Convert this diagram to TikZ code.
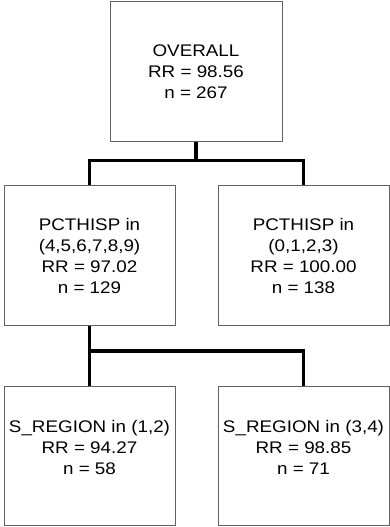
\documentclass[tikz,border=0pt]{standalone}
\usepackage{fontspec}
\setmainfont{Liberation Sans}[FakeStretch=1.12]
\begin{document}
\begin{tikzpicture}[x=1pt,y=-1pt,
  treebox/.style={draw=black!62, line width=1pt, minimum width=171pt, minimum height=139pt, inner sep=0pt},
  boxtext/.style={align=center, font=\fontsize{16.8}{21}\selectfont, inner sep=0pt},
  link/.style={line width=3.2pt, black}]
\useasboundingbox (0,0) rectangle (390,527);
\node[treebox, minimum width=172pt] (top) at (196,71.5) {};
\node[boxtext] (toptext) at (196,72) {OVERALL\\RR = 98.56\\n = 267};
\node[treebox, minimum height=140pt] (ml) at (89.5,255) {};
\node[boxtext] (mltext) at (89.5,255.5) {PCTHISP in\\(4,5,6,7,8,9)\\RR = 97.02\\n = 129};
\node[treebox, minimum height=140pt] (mr) at (303.5,255) {};
\node[boxtext] (mrtext) at (303.5,255.5) {PCTHISP in\\(0,1,2,3)\\RR = 100.00\\n = 138};
\node[treebox] (bl) at (89.5,456) {};
\node[boxtext] (bltext) at (89.5,447.5) {S\_REGION in (1,2)\\RR = 94.27\\n = 58};
\node[treebox] (br) at (303.5,456) {};
\node[boxtext] (brtext) at (303.5,447.5) {S\_REGION in (3,4)\\RR = 98.85\\n = 71};
\coordinate (j1) at (196,160.5);
\coordinate (j2) at (89.5,351);
\draw[link] (top.south) -- (j1);
\draw[link] (ml.north) -- (ml.north |- j1) -- (mr.north |- j1) -- (mr.north);
\draw[link] (ml.south) -- (j2);
\draw[link] (bl.north) -- (bl.north |- j2) -- (br.north |- j2) -- (br.north);
\end{tikzpicture}
\end{document}
